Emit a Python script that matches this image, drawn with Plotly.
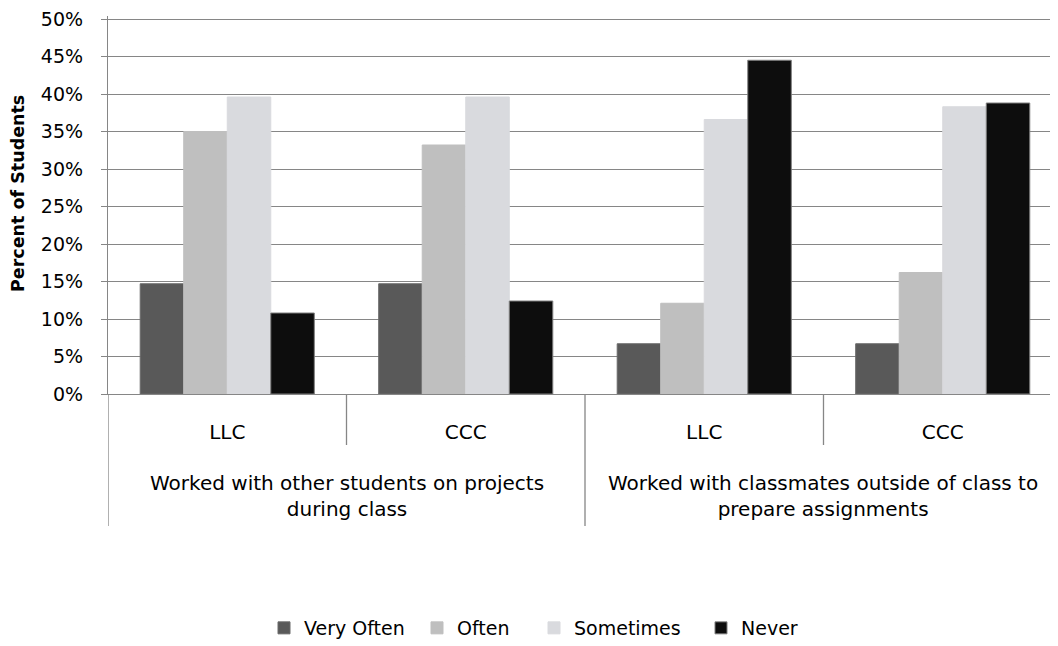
import plotly.graph_objects as go

# ---- data ----
outer_groups = ["Worked with other students on projects<br>during class",
                "Worked with classmates outside of class to<br>prepare assignments"]
inner_labels = ["LLC", "CCC", "LLC", "CCC"]
series_names = ["Very Often", "Often", "Sometimes", "Never"]
very_often = [0.147, 0.147, 0.067, 0.067]
often = [0.350, 0.332, 0.121, 0.162]
sometimes = [0.396, 0.396, 0.366, 0.383]
never = [0.108, 0.124, 0.445, 0.388]
y_ticks = [0, 0.05, 0.10, 0.15, 0.20, 0.25, 0.30, 0.35, 0.40, 0.45, 0.50]
y_title = "Percent of Students"

colors = ["#595959", "#BFBFBF", "#D9DADE", "#0D0D0D"]
line_colors = ["#6a6a6a", "#BFBFBF", "#D9DADE", "#7F7F7F"]
values = [very_often, often, sometimes, never]

FONT = "DejaVu Sans"
GRID = "#868686"

# page offset (browser body margin) and target screen geometry
OFF = 8
SW, SH = 1058, 646
W, H = SW - OFF, SH - OFF
PL, PT, PB = 108, 16, 394          # plot area left/top/bottom on screen
TOP_GRID = 19                      # screen y of the 50% gridline
L, T = PL - OFF, PT - OFF
B = H - (PB - OFF)
plot_h = PB - PT
plot_w = W - L
Y_TOP = 0.5 * plot_h / (PB - TOP_GRID)

def py(p):   # screen y -> paper y
    return (PB - p) / plot_h

def px(p):   # screen x -> paper x
    return (p - PL) / plot_w

x_pos = list(range(len(inner_labels)))
legend_ids = ["legend", "legend2", "legend3", "legend4"]
legend_marker_x = [286, 439, 556, 723]   # screen x of legend marker centres

fig = go.Figure()
for name, vals, c, lc, lg in zip(series_names, values, colors, line_colors, legend_ids):
    fig.add_trace(go.Bar(
        x=x_pos, y=vals, name=name, legend=lg,
        marker=dict(color=c, line=dict(color=lc, width=1)),
    ))

shapes = []
n = len(inner_labels)
per_group = n // len(outer_groups)
for i in range(n):
    xb = i - 0.5
    long_div = (i % per_group == 0)
    shapes.append(dict(type="line", xref="x", yref="paper",
                       x0=xb, x1=xb, y0=0, y1=py(526 if long_div else 445),
                       line=dict(color=GRID, width=1.3)))

annotations = []
for g, label in enumerate(outer_groups):
    xc = g * per_group + (per_group - 1) / 2
    annotations.append(dict(xref="x", yref="paper", x=xc, y=py(496),
                            text=label, showarrow=False, xanchor="center",
                            yanchor="middle", align="center",
                            font=dict(family=FONT, size=20, color="#000000")))
annotations.append(dict(xref="paper", yref="paper", x=px(18), y=py(194),
                        text="<b>" + y_title + "</b>", textangle=-90,
                        showarrow=False, xanchor="center", yanchor="middle",
                        font=dict(family=FONT, size=17.5, color="#000000")))

legends = {}
for lg, mx in zip(legend_ids, legend_marker_x):
    legends[lg] = dict(orientation="h", xref="container", yref="container",
                       x=(mx - OFF - 22) / W, y=1 - (628 - OFF) / H,
                       xanchor="left", yanchor="middle",
                       font=dict(family=FONT, size=19, color="#000000"),
                       bgcolor="rgba(0,0,0,0)", itemwidth=30)

fig.update_layout(
    width=W, height=H,
    margin=dict(l=L, r=0, t=T, b=B, pad=0, autoexpand=False),
    paper_bgcolor="white", plot_bgcolor="white",
    barmode="group", bargap=0.27, bargroupgap=0,
    font=dict(family=FONT, size=20, color="#000000"),
    showlegend=True,
    shapes=shapes,
    annotations=annotations,
    xaxis=dict(
        range=[-0.5, n - 0.5 - 4 / 239], tickmode="array",
        tickvals=x_pos, ticktext=inner_labels, automargin=False,
        showgrid=False, zeroline=False,
        showline=True, linecolor=GRID, linewidth=1.3,
        ticks="outside", ticklen=20, tickcolor="rgba(0,0,0,0)",
        tickfont=dict(family=FONT, size=20),
    ),
    yaxis=dict(
        range=[0, Y_TOP], tickmode="array", tickvals=y_ticks, tickformat=".0%",
        automargin=False,
        showgrid=True, gridcolor=GRID, gridwidth=1.3,
        zeroline=False, showline=True, linecolor=GRID, linewidth=1.3,
        ticks="outside", ticklen=6, tickcolor=GRID, tickwidth=1.3,
        ticklabelstandoff=14, ticklabeloverflow="allow",
        tickfont=dict(family=FONT, size=19),
    ),
    **legends,
)

fig.write_html("out.html")
